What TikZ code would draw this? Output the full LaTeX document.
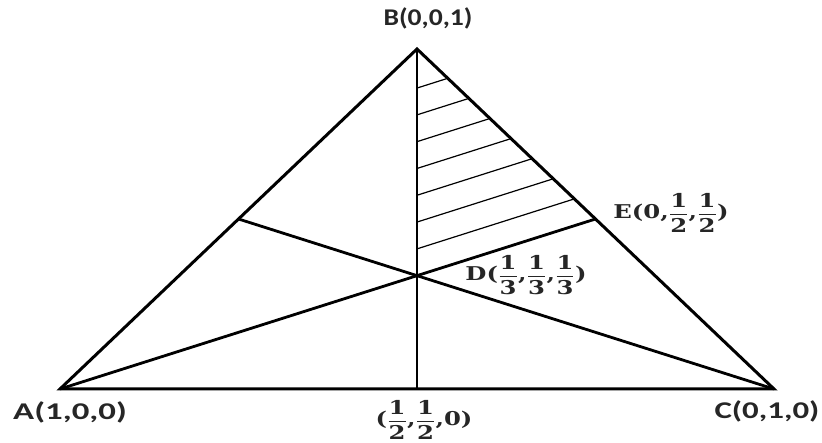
\documentclass[tikz,border=0pt]{standalone}
\usepackage{fontspec}
\usepackage{graphicx}
\usetikzlibrary{calc}
\newfontfamily\lblsans{Carlito}
\newfontfamily\lblserif{DejaVu Serif}
\newcommand{\wide}[2]{\scalebox{#1}[1]{#2}}
\newcommand{\fr}[2]{$\displaystyle\frac{\mbox{#1\rule[-3pt]{0pt}{3pt}}}{\mbox{\rule{0pt}{17pt}#2}}$}
\begin{document}
\begin{tikzpicture}[x=1pt,y=-1pt,
  edge/.style={line width=3pt},
  median/.style={line width=2.8pt},
  hatchline/.style={line width=1.2pt},
  vlabel/.style={inner sep=0pt, font=\lblsans\bfseries\fontsize{24}{28}\selectfont, text=black!85},
  flabel/.style={inner sep=0pt, font=\lblserif\bfseries\fontsize{19}{23}\selectfont, text=black!85}]
\useasboundingbox (0,0) rectangle (822,443);
\coordinate (A) at (60,389);
\coordinate (C) at (774,389);
\coordinate (B) at (417,49);
\coordinate (M) at ($(A)!0.5!(C)$);
\coordinate (E) at ($(B)!0.5!(C)$);
\coordinate (F) at ($(A)!0.5!(B)$);
\coordinate (D) at ($(M)!1/3!(B)$);
% hatching
\begin{scope}
  \clip (B) -- (D) -- (E) -- cycle;
  \foreach \k in {1,...,7}
    \draw[hatchline] ($(D)+(0,-26.8*\k)$) -- ++(250,-79.4);
\end{scope}
% medians
\draw[median] (B) -- (M);
\draw[median] (A) -- (E);
\draw[median] (C) -- (F);
% triangle
\draw[edge] (A) -- (B) -- (C) -- cycle;
% labels
\node[vlabel] (lB) at (428,18) {\wide{1.15}{B(0,0,1)}};
\node[vlabel] (lA) at (70,412) {\wide{1.45}{A(1,0,0)}};
\node[vlabel] (lC) at (767,411) {\wide{1.37}{C(0,1,0)}};
\node[flabel] (lM) at (424,420) {\wide{1.28}{(\fr{1}{2},\fr{1}{2},0)}};
\node[flabel] (lD) at (526,275) {\wide{1.28}{D(\fr{1}{3},\fr{1}{3},\fr{1}{3})}};
\node[flabel] (lE) at (671,213) {\wide{1.28}{E(0,\fr{1}{2},\fr{1}{2})}};
\end{tikzpicture}
\end{document}
